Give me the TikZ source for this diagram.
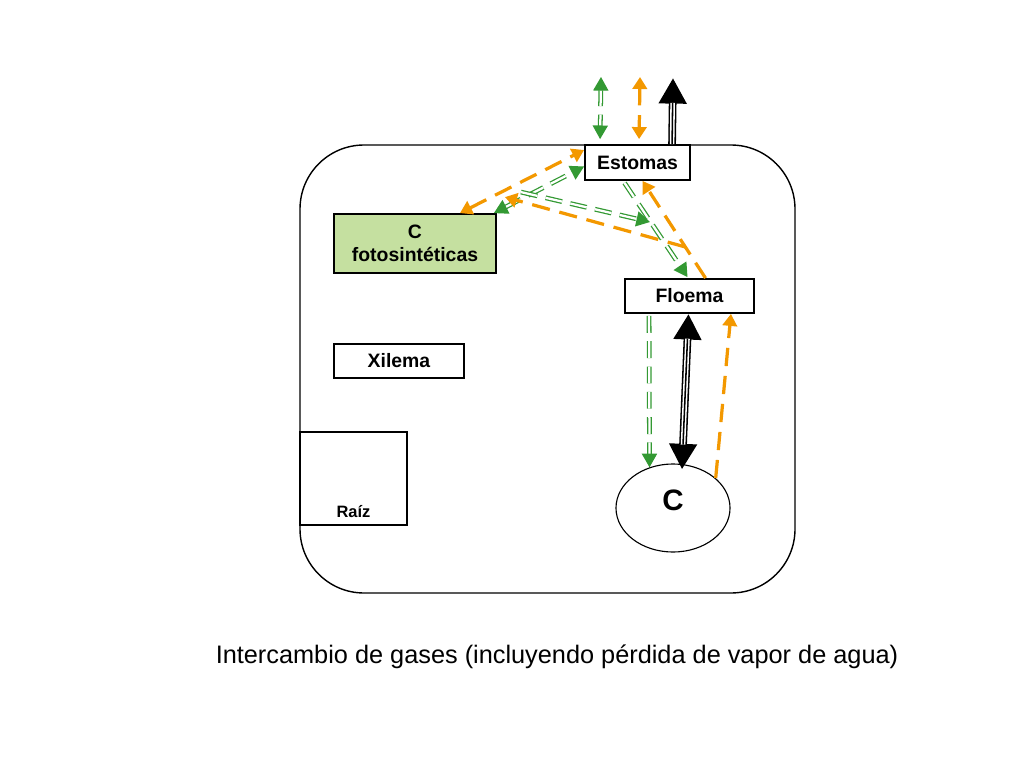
\documentclass[tikz,border=0pt]{standalone}
\usepackage{fontspec}
\setmainfont{Liberation Sans}
\usepackage{xcolor}
\definecolor{naranja}{RGB}{243,152,0}
\definecolor{verde}{RGB}{51,153,51}
\definecolor{hoja}{RGB}{197,224,160}
\usetikzlibrary{arrows.meta}
\usetikzlibrary{shapes.geometric}
\usetikzlibrary{calc}
\tikzset{
  caja/.style={draw, line width=1.3pt, inner sep=0pt, align=center,
    font=\bfseries\fontsize{13.8}{16}\selectfont},
  tipO/.tip={Triangle[width=0.36cm,length=0.3cm]},
  tipV/.tip={Triangle[width=0.38cm,length=0.34cm]},
  tipN/.tip={Triangle[width=0.66cm,length=0.64cm]},
  gasO/.style={naranja, line width=2.3pt, dash pattern=on 13pt off 7pt},
  gasV/.style={draw=verde, line width=0.9pt, double=white, double distance=1.6pt,
    dash pattern=on 12pt off 6pt},
  masa/.style={black, line width=5.5pt},
  triple/.style={white, line width=1.1pt, double=black, double distance=1.1pt}
}

\begin{document}
\begin{tikzpicture}[x=0.025cm, y=-0.025cm]
    \useasboundingbox (0,0) rectangle (1024,768);

    % hoja
    \draw[line width=1pt, rounded corners=1.6cm] (300,145) rectangle (795,593);

    \node[caja, minimum width=2.625cm, minimum height=0.875cm] (est) at (637.5,162.5) {Estomas};
    \node[caja, fill=hoja, minimum width=4.05cm, minimum height=1.475cm] (cfot) at (415,243.5) {C\\fotosintéticas};
    \node[caja, minimum width=3.225cm, minimum height=0.85cm] (flo) at (689.5,296) {Floema};
    \node[caja, minimum width=3.25cm, minimum height=0.85cm] (xil) at (399,361) {Xilema};
    \node[caja, minimum width=2.675cm, minimum height=2.325cm] (raiz) at (353.5,478.5) {};
    \node[anchor=base, font=\bfseries\fontsize{11.7}{14}\selectfont] (raiztxt) at ($(raiz.south)+(0,-8)$) {Raíz};
    \node[draw, ellipse, line width=0.8pt, inner sep=0pt, minimum width=2.85cm, minimum height=2.2cm] (cel) at (673,508) {};
    \node[font=\bfseries\fontsize{21}{24}\selectfont] (celtxt) at ($(cel.center)+(0,-8)$) {C};

    % salida por los estomas
    \coordinate (vUp) at (601,77);
    \coordinate (oUp) at (640,77);
    \coordinate (nUp) at (673,78);
    \coordinate (nDown) at ($(est.north west)+(88,0)$);
    \draw[gasV, tipV-tipV, dash phase=4pt] ($(est.north west)+(16,-5)$) -- (vUp);
    \draw[gasO, tipO-tipO, dash phase=4pt] ($(est.north west)+(55,-5)$) -- (oUp);
    \draw[masa, -tipN] (nDown) -- (nUp);
    \draw[triple, shorten >=0.62cm] (nDown) -- (nUp);

    % estomas - c fotosinteticas
    \draw[gasO, tipO-tipO] ($(cfot.north)+(45,0)$) -- ($(est.west)+(0,-12.5)$);
    \draw[gasV, tipV-tipV] ($(cfot.north east)+(-3,0)$) -- ($(est.west)+(0,4)$);
    \coordinate (vMid) at (650,222);
    \draw[gasV, -tipV] ($(cfot.north east)+(24,-21)$) -- (vMid);

    % floema - estomas
    \coordinate (oF) at ($(flo.north)+(16,0)$);
    \coordinate (oE) at ($(est.south)+(5,0)$);
    \coordinate (oK) at ($(oF)!0.32!(oE)$);
    \draw[gasO, -tipO] (oF) -- (oE);
    \draw[gasO, -tipO] (oK) -- ($(cfot.north east)+(8,-16)$);
    \draw[gasV, -tipV] ($(est.south)+(-13,2)$) -- ($(flo.north)+(-2,-1)$);

    % floema - C
    \draw[gasV, -tipV] ($(flo.south west)+(25,2)$) -- (cel.120);
    \coordinate (nF) at ($(flo.south)+(-1,0)$);
    \coordinate (nC) at ($(cel.north)+(9,6)$);
    \draw[masa, tipN-tipN] (nF) -- (nC);
    \draw[triple, shorten >=0.62cm, shorten <=0.62cm] (nF) -- (nC);
    \draw[gasO, -tipO] (cel.35) -- ($(flo.south east)+(-24,0)$);

    \node[font=\fontsize{18}{22}\selectfont] (titulo) at (557,657) {Intercambio de gases (incluyendo pérdida de vapor de agua)};
\end{tikzpicture}
\end{document}
